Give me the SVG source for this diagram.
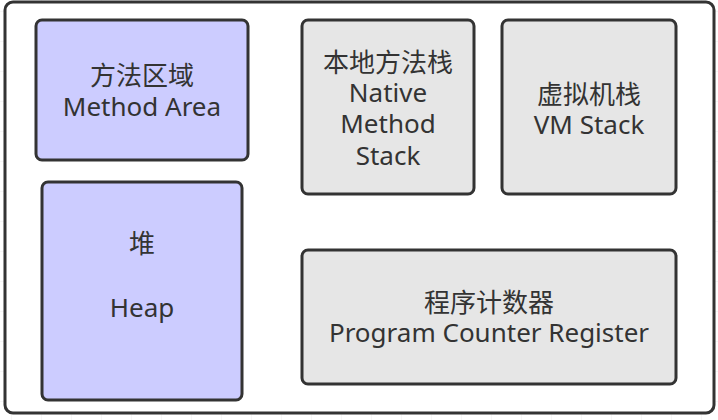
<svg xmlns="http://www.w3.org/2000/svg" width="718" height="420" viewBox="0 0 718 420">
<defs>
<pattern id="grid" x="11" y="11" width="30" height="30" patternUnits="userSpaceOnUse">
<path d="M0 0V30M0 0H30" fill="none" stroke="#eeeeee" stroke-width="1"/>
</pattern>
<style>
.box{stroke:#333333;stroke-width:3}
.blue{fill:#ccccff}
.gray{fill:#e6e6e6}
text{font-family:"Noto Sans","Noto Sans CJK SC",sans-serif;font-size:26px;fill:#333333;text-anchor:middle}
</style>
</defs>
<rect width="718" height="420" fill="#ffffff"/>
<rect width="718" height="420" fill="url(#grid)"/>
<g id="container">
<rect x="5" y="2" width="709" height="411" rx="8" fill="#ffffff" stroke="#333333" stroke-width="3"/>
</g>
<g id="method-area">
<rect class="box blue" x="36" y="20" width="212" height="140" rx="6"/>
<text x="142" y="85">方法区域</text>
<text x="142" y="116">Method Area</text>
</g>
<g id="heap">
<rect class="box blue" x="42" y="182" width="200" height="218" rx="6"/>
<text x="142" y="253">堆</text>
<text x="142" y="317">Heap</text>
</g>
<g id="native-method-stack">
<rect class="box gray" x="302" y="20" width="172" height="174" rx="6"/>
<text x="388" y="72">本地方法栈</text>
<text x="388" y="102">Native</text>
<text x="388" y="133">Method</text>
<text x="388" y="165">Stack</text>
</g>
<g id="vm-stack">
<rect class="box gray" x="502" y="20" width="174" height="174" rx="6"/>
<text x="589" y="104">虚拟机栈</text>
<text x="589" y="134">VM Stack</text>
</g>
<g id="pc-register">
<rect class="box gray" x="302" y="250" width="374" height="134" rx="6"/>
<text x="489" y="312">程序计数器</text>
<text x="489" y="342">Program Counter Register</text>
</g>
<g id="connectors"></g>
</svg>
